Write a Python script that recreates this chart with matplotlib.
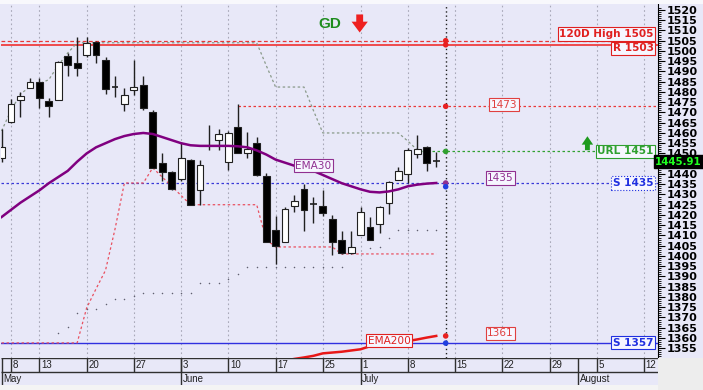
import matplotlib
matplotlib.use("Agg")
import matplotlib.pyplot as plt
from matplotlib import font_manager
from matplotlib import transforms
from matplotlib.patches import Rectangle
import numpy as np

names = {f.name for f in font_manager.fontManager.ttflist}
NARROW = 'Liberation Sans Narrow' if 'Liberation Sans Narrow' in names else 'DejaVu Sans'
REG = 'Liberation Sans' if 'Liberation Sans' in names else 'DejaVu Sans'

# ---------------- data ----------------
# trading-day index: 0 = May 8 (June 24 absent from the axis)
idx = list(range(-1, 46))
opens = [1448, 1465.4, 1476, 1482, 1485, 1475.6, 1476, 1497.6, 1494, 1498, 1504.4,
         1495.6, 1482.6, 1474, 1481, 1483.4, 1470, 1445.4, 1441, 1437.6, 1447, 1432.2,
         1454, 1456.6, 1446, 1463, 1450, 1455, 1439, 1412.7, 1407, 1424.4, 1432.7,
         1425.6, 1424.4, 1418, 1408, 1401.5, 1410, 1414, 1415.5, 1426, 1437, 1440,
         1449.8, 1453, 1446.4]
highs = [1462, 1476.6, 1480, 1487, 1487, 1477, 1495, 1499, 1507, 1506.8, 1505,
         1497, 1488, 1482, 1495.6, 1488, 1471, 1450, 1441.5, 1455.6, 1447.5, 1447,
         1464, 1462, 1461, 1474, 1460.5, 1458, 1440.5, 1419.5, 1424, 1429.6, 1435,
         1429, 1432, 1420, 1412, 1412.4, 1424, 1419, 1424.5, 1436.5, 1443.4, 1452.7,
         1459, 1453.5, 1450.6]
lows = [1446, 1465, 1468, 1482, 1472, 1468, 1476, 1488, 1488, 1497, 1494,
        1479, 1477.6, 1470.7, 1478.5, 1471, 1443, 1436.6, 1432, 1436.6, 1425, 1425,
        1451.7, 1451.7, 1442, 1450, 1448, 1439, 1407, 1396, 1407, 1421.5, 1412,
        1416, 1419.5, 1400.5, 1401, 1401, 1410, 1408, 1411, 1420.5, 1437, 1435.6,
        1448, 1441.5, 1443.4]
closes = [1453, 1474, 1478, 1485, 1477, 1473, 1494.6, 1493, 1491.7, 1504, 1498,
          1481.5, 1482.2, 1478.5, 1482.4, 1472, 1443, 1441, 1432.7, 1448, 1425, 1444.4,
          1453.5, 1459.5, 1460, 1450, 1452, 1439.5, 1407, 1405, 1423, 1427, 1422.4,
          1425.2, 1421, 1407, 1401.5, 1404.4, 1421.5, 1408, 1424, 1436, 1441.5, 1451.7,
          1452, 1445.4, 1445.91]

ema30 = [1419, 1422.5, 1426, 1429, 1432, 1435.5, 1438.5, 1441.5, 1446, 1450, 1453,
         1455, 1457, 1458.5, 1459.5, 1460, 1459.5, 1458, 1456.5, 1455, 1454, 1453.7,
         1453.7, 1453.7, 1453.7, 1453.5, 1453, 1451.5, 1449.5, 1447, 1445.5, 1444,
         1442.5, 1441.5, 1439.5, 1437.5, 1435.5, 1434, 1432.5, 1431.3, 1431, 1431.5,
         1432.5, 1434, 1434.8, 1435.3, 1435.6]

ema200_idx = list(range(28, 46))
ema200 = [1348.5, 1349, 1349.8, 1350.5, 1351.3, 1352.5, 1352.9, 1353.3, 1353.9,
          1354.5, 1356, 1356.8, 1357.3, 1357.9, 1358.5, 1359.3, 1360.2, 1361]

# upper trailing line (grey history part)
upper_idx = list(range(-1, 44))
upper = [1461, 1471, 1479, 1482.5, 1484, 1486, 1493, 1499, 1504, 1504, 1504, 1504,
         1504, 1504, 1504, 1504, 1504, 1504, 1504, 1504, 1504, 1504, 1504, 1504,
         1504, 1504, 1504, 1504, 1493, 1482.4, 1482.4, 1482.4, 1482.4, 1471, 1460,
         1460, 1460, 1460, 1460, 1460, 1460, 1460, 1460, 1456, 1451.7]

# lower trailing line (red dotted)
lower_idx = list(range(-1, 46))
lower = [1357.6, 1357.6, 1357.6, 1357.6, 1357.6, 1357.6, 1357.6, 1357.6, 1357.6,
         1374.6, 1384, 1393, 1413, 1435.6, 1435.6, 1435.6, 1443, 1438.5, 1434, 1429.5,
         1425, 1425, 1425, 1425, 1425, 1425, 1425, 1425, 1408, 1404.4, 1404.4, 1404.4,
         1404.4, 1404.4, 1404.4, 1404.4, 1401, 1401, 1401, 1401, 1401, 1401, 1401,
         1401, 1401, 1401, 1401]

# sparse dotted band
dots_idx = [5, 6, 7, 8, 9, 10, 11, 12, 13, 14, 15, 16, 17, 18, 19, 20, 21, 22, 23,
            24, 25, 26, 27, 28, 29, 30, 31, 32, 33, 34, 35, 38, 39, 40, 41, 42, 43, 44, 45]
dots = [1362.5, 1365.5, 1372, 1374, 1374, 1376.5, 1379, 1379, 1380.5, 1382, 1382,
        1382, 1382, 1382, 1382, 1387, 1387, 1387, 1389, 1391, 1394.6, 1394.6, 1394.6,
        1394.6, 1394.6, 1394.6, 1394.6, 1394.6, 1394.6, 1394.6, 1394.6, 1404, 1404.4,
        1408.8, 1412.7, 1412.7, 1412.7, 1412.7, 1412.7]

high120 = 1505
resist = 1503
level_1473 = 1473
url = 1451
sup_1435 = 1435.6
sup_1357 = 1357.5
last_price = 1445.91
now_idx = 46

y_ticks = list(range(1355, 1521, 5))
hidden_tick = 1445  # covered by the last-price tag

tick_idx = [0, 3, 8, 13, 18, 23, 28, 33, 37, 42, 47, 52, 57, 62, 67]
tick_lbl = ['8', '13', '20', '27', '3', '10', '17', '25', '1', '8', '15', '22', '29', '5', '12']
month_idx = [-1.06, 18, 37, 60]
month_lbl = ['May', 'June', 'July', 'August']

# ---------------- figure ----------------
BG = '#E8E8F8'
W, H = 703, 390
fig = plt.figure(figsize=(W / 100, H / 100), dpi=100, facecolor=BG)

XL = (-1.06, 68.47)
ax = fig.add_axes([1 / W, 32 / H, 657 / W, 354 / H])
ax.set_facecolor(BG)
ax.set_xlim(*XL)
ax.set_ylim(1350.24, 1522.9)
for s in ['top', 'left', 'bottom']:
    ax.spines[s].set_visible(False)
ax.spines['right'].set_color('black')
ax.spines['right'].set_linewidth(0.8)

ax.yaxis.tick_right()
ax.set_yticks(y_ticks)
ax.set_yticklabels(['' if v == hidden_tick else str(v) for v in y_ticks])
ax.set_yticks(np.arange(1351, 1522, 1), minor=True)
ax.tick_params(axis='y', which='major', direction='out', length=5, width=0.8, pad=1.5,
               labelsize=8)
ax.tick_params(axis='y', which='minor', direction='out', length=2, width=0.6)
for lab in ax.get_yticklabels():
    lab.set_fontfamily(NARROW)
    lab.set_fontweight('bold')
ax.set_xticks([])

# vertical grid
for t in tick_idx:
    ax.axvline(t, color='#A8A8B8', lw=0.8, ls=(0, (1.5, 2.5)), zorder=1)

# horizontal levels
ax.axhline(high120, color='#E83838', lw=0.9, ls=(0, (3, 2)), zorder=2)
ax.axhline(resist, color='#F03030', lw=1.2, zorder=2)
ax.hlines(level_1473, 24, XL[1], color='#E83838', lw=0.9, ls=(0, (2, 2)), zorder=2)
ax.axhline(sup_1435, color='#3838D8', lw=0.9, ls=(0, (2, 2)), zorder=2)
ax.axhline(sup_1357, color='#3030E0', lw=1.0, zorder=2)
ax.hlines(url, 43, 63, color='#30A030', lw=0.9, ls=(0, (2, 2)), zorder=2)

# trailing lines
ax.plot(upper_idx, upper, color='#8A9A8A', lw=0.9, ls=(0, (2, 2)), zorder=2)
ax.plot(lower_idx, lower, color='#E85060', lw=0.9, ls=(0, (2, 2)), zorder=2)
ax.scatter(dots_idx, dots, s=1.2, color='#606070', zorder=2, linewidths=0)

# now line
ax.axvline(now_idx, color='#202020', lw=1.0, ls=(0, (1, 2)), zorder=2)

# candles
bw = 0.72
for i, o, h, l, c in zip(idx, opens, highs, lows, closes):
    ax.vlines(i, l, h, color='#202020', lw=1.0, zorder=3)
    if abs(c - o) < 0.6:
        ax.hlines((o + c) / 2, i - bw / 2, i + bw / 2, color='#202020', lw=1.2, zorder=4)
    else:
        fc = 'white' if c > o else 'black'
        ax.add_patch(Rectangle((i - bw / 2, min(o, c)), bw, abs(c - o), facecolor=fc,
                               edgecolor='#202020', lw=0.8, zorder=4))

# EMAs
ax.plot(idx, ema30, color='#800080', lw=1.8, zorder=5)
ax.plot(ema200_idx, ema200, color='#E81818', lw=1.8, zorder=5)

# dots on the now line
ax.scatter([now_idx] * 8, [1505, 1503, 1473, 1451, 1435.6, 1433.8, 1361, 1357.5],
           s=16, color=['#E82020', '#E82020', '#E82020', '#30A030', '#903090', '#2040E0',
                        '#E82020', '#2040E0'], zorder=6, linewidths=0)


def box(x, y, txt, col, ha='center', bold=False, ls='solid', fs=7.6):
    ax.text(x, y, txt, color=col, ha=ha, va='center', fontsize=fs, family=NARROW,
            fontweight='bold' if bold else 'normal', zorder=7,
            bbox=dict(boxstyle='square,pad=0.15', fc='#F6F6FF', ec=col, lw=0.8, ls=ls))


box(68.0, 1508.3, '120D High 1505', '#E02020', ha='right', bold=True)
box(68.0, 1501.3, 'R 1503', '#E02020', ha='right', bold=True)
box(52.2, 1473.7, '1473', '#E04040')
box(68.0, 1451.0, 'URL 1451', '#30A030', ha='right', bold=True)
box(51.8, 1438.0, '1435', '#903090')
box(68.0, 1435.6, 'S 1435', '#2030E0', ha='right', bold=True, ls=':')
box(32.0, 1444.1, 'EMA30', '#903090')
box(40.05, 1358.6, 'EMA200', '#E02020')
box(51.8, 1362.2, '1361', '#E04040')
box(68.0, 1357.6, 'S 1357', '#2030E0', ha='right', bold=True)

ax.text(33.76, 1513.2, 'GD', color='#1E8C1E', fontsize=11, fontweight='bold',
        family=REG, ha='center', va='center', zorder=7)
ax.annotate('', xy=(36.9, 1509.0), xytext=(36.9, 1517.8),
            arrowprops=dict(arrowstyle='simple,head_width=0.9,head_length=0.6,tail_width=0.38',
                            color='#EE2020', lw=0, shrinkA=0, shrinkB=0, mutation_scale=13),
            zorder=7)
ax.annotate('', xy=(61.0, 1458.4), xytext=(61.0, 1451.6),
            arrowprops=dict(arrowstyle='simple,head_width=0.75,head_length=0.55,tail_width=0.32',
                            color='#1E9A1E', lw=0, shrinkA=0, shrinkB=0, mutation_scale=11),
            zorder=7)

# last price tag, flush with the right edge of the picture
tr = transforms.blended_transform_factory(fig.transFigure, ax.transData)
fig.text(0.9985, last_price, f'{last_price:.2f}', transform=tr, ha='right', va='center',
         color='#20FF20', fontsize=7.4, fontweight='bold', family=NARROW, zorder=10,
         bbox=dict(boxstyle='square,pad=0.15', fc='black', ec='black'))

# ---------------- date axis ----------------
axd = fig.add_axes([1 / W, 5 / H, 657 / W, 27 / H])
axd.set_facecolor(BG)
axd.set_xlim(*XL)
axd.set_ylim(0, 27)
axd.axis('off')
axd.hlines([27, 13.5], XL[0], XL[1], color='#303030', lw=1.0)
axd.vlines(XL[0] + 0.12, 0, 27, color='#303030', lw=1.0)
for t, lbl in zip(tick_idx, tick_lbl):
    axd.vlines(t, 13.5, 27, color='#303030', lw=1.0)
    axd.text(t + 0.17, 20.2, lbl, fontsize=7, family=REG, color='#202020',
             ha='left', va='center')
for m, lbl in zip(month_idx, month_lbl):
    if m > XL[0] + 0.5:
        axd.vlines(m, 0, 27, color='#303030', lw=1.0)
    axd.text(max(m, XL[0] + 0.12) + 0.17, 6.5, lbl, fontsize=7, family=REG,
             color='#202020', ha='left', va='center')

# corner, bottom and top strips
fig.patches.append(Rectangle((658 / W, 0), 45 / W, 32 / H, transform=fig.transFigure,
                             facecolor='#EDEDED', edgecolor='none', zorder=0))
fig.patches.append(Rectangle((0, 0), 658 / W, 5 / H, transform=fig.transFigure,
                             facecolor='#F4F4F4', edgecolor='none', zorder=0))
fig.patches.append(Rectangle((0, 386 / H), 1, 4 / H, transform=fig.transFigure,
                             facecolor='#F8F8FC', edgecolor='none', zorder=0))

fig.savefig('out.png', dpi=100, facecolor=BG)
